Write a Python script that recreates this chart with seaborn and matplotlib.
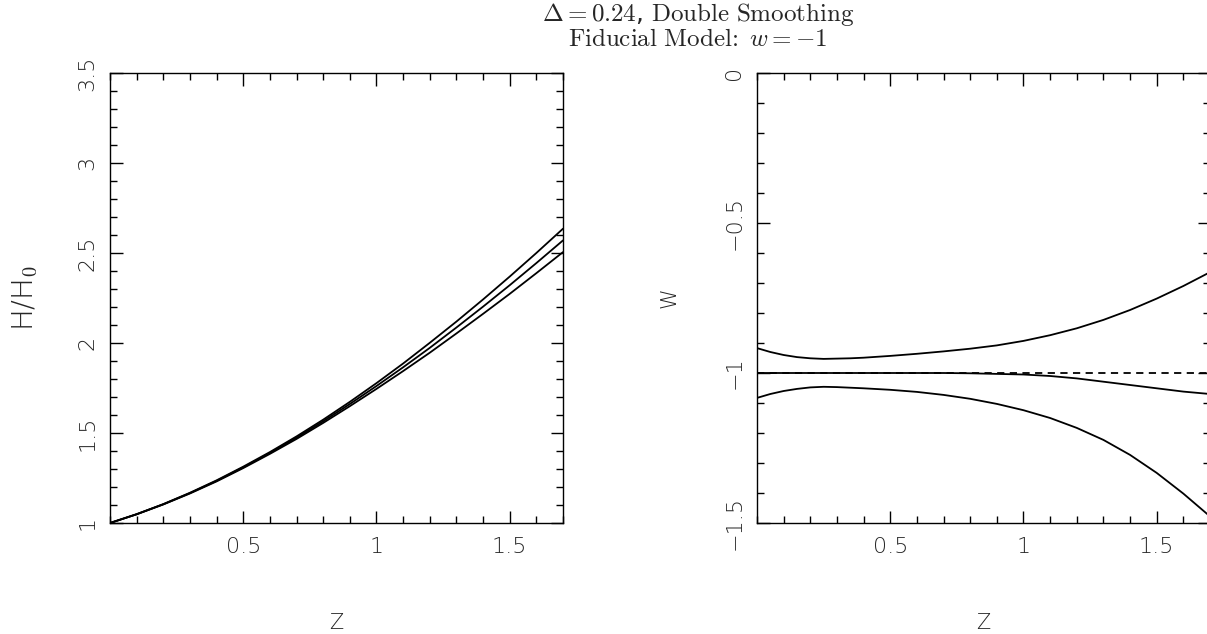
import pandas as pd
import seaborn as sns
import matplotlib.pyplot as plt
from matplotlib.ticker import MultipleLocator

# redshift grid for H/H0
z = [0.0, 0.1, 0.2, 0.3, 0.4, 0.5, 0.6, 0.7, 0.8, 0.9,
     1.0, 1.1, 1.2, 1.3, 1.4, 1.5, 1.6, 1.7]

# H/H0 reconstruction (upper, middle, lower)
h_upper = [1.000, 1.049, 1.105, 1.168, 1.237, 1.313, 1.394, 1.481, 1.574, 1.673,
           1.777, 1.886, 2.001, 2.119, 2.242, 2.369, 2.500, 2.635]
h_mid   = [1.000, 1.049, 1.104, 1.166, 1.234, 1.309, 1.389, 1.474, 1.565, 1.661,
           1.761, 1.865, 1.973, 2.086, 2.202, 2.321, 2.444, 2.570]
h_lower = [1.000, 1.048, 1.103, 1.164, 1.231, 1.305, 1.384, 1.467, 1.556, 1.649,
           1.745, 1.844, 1.946, 2.053, 2.162, 2.273, 2.388, 2.505]

# redshift grid for w (denser at low z)
zw = [0.0, 0.05, 0.1, 0.15, 0.2, 0.25, 0.3, 0.35, 0.4, 0.5, 0.6, 0.7, 0.8, 0.9,
      1.0, 1.1, 1.2, 1.3, 1.4, 1.5, 1.6, 1.7]

# w reconstruction (upper, middle, lower)
w_upper = [-0.917, -0.930, -0.940, -0.947, -0.951, -0.953, -0.952, -0.951, -0.949,
           -0.943, -0.936, -0.928, -0.919, -0.908, -0.893, -0.874, -0.851, -0.823,
           -0.790, -0.752, -0.710, -0.664]
w_mid   = [-1.000, -1.000, -1.000, -1.000, -1.000, -1.000, -1.000, -1.000, -1.000,
           -1.000, -1.000, -1.000, -1.001, -1.003, -1.005, -1.010, -1.018, -1.029,
           -1.040, -1.051, -1.062, -1.070]
w_lower = [-1.083, -1.070, -1.060, -1.053, -1.048, -1.046, -1.047, -1.049, -1.051,
           -1.056, -1.063, -1.073, -1.086, -1.103, -1.124, -1.150, -1.183, -1.223,
           -1.273, -1.333, -1.402, -1.478]

# fiducial w = -1
fid_z = [0.0, 1.7]
fid_w = [-1.0, -1.0]

x_ticks = [0.5, 1.0, 1.5]
x_labels = ["0.5", "1", "1.5"]
h_ticks = [1.0, 1.5, 2.0, 2.5, 3.0, 3.5]
h_labels = ["1", "1.5", "2", "2.5", "3", "3.5"]
w_ticks = [-1.5, -1.0, -0.5, 0.0]
w_labels = ["\u22121.5", "\u22121", "\u22120.5", "0"]

sns.set_style("ticks")
plt.rcParams["font.family"] = ["DejaVu Sans"]
plt.rcParams["mathtext.fontset"] = "cm"

fig = plt.figure(figsize=(12.07, 6.34), dpi=100)
W, H = 1207, 634
ax1 = fig.add_axes([110 / W, (H - 523) / H, 453 / W, 450 / H])
ax2 = fig.add_axes([757 / W, (H - 523) / H, 453 / W, 450 / H])

for y in (h_upper, h_mid, h_lower):
    sns.lineplot(x=z, y=y, ax=ax1, color="black", linewidth=1.3)
for y in (w_upper, w_mid, w_lower):
    sns.lineplot(x=zw, y=y, ax=ax2, color="black", linewidth=1.3)
sns.lineplot(x=fid_z, y=fid_w, ax=ax2, color="black", linewidth=1.3,
             linestyle=(0, (4, 3)))

tick_font = dict(fontsize=16, fontweight="light")

for ax, yt, yl, ylo, yhi in ((ax1, h_ticks, h_labels, 1.0, 3.5),
                             (ax2, w_ticks, w_labels, -1.5, 0.0)):
    ax.set_xlim(0, 1.7)
    ax.set_ylim(ylo, yhi)
    ax.set_xticks(x_ticks)
    ax.set_xticklabels(x_labels, **tick_font)
    ax.set_yticks(yt)
    ax.set_yticklabels(yl, rotation=90, va="center", **tick_font)
    ax.xaxis.set_minor_locator(MultipleLocator(0.1))
    ax.yaxis.set_minor_locator(MultipleLocator(0.1))
    ax.tick_params(which="both", direction="in", top=True, right=True,
                   width=1.0, color="black")
    ax.tick_params(which="major", length=9)
    ax.tick_params(which="minor", length=5)
    ax.tick_params(axis="x", pad=10)
    ax.tick_params(axis="y", pad=9)
    for s in ax.spines.values():
        s.set_linewidth(1.0)
        s.set_color("black")
    ax.set_xlabel("Z", fontsize=15, fontweight="light")
    ax.xaxis.set_label_coords(0.5, -0.2)

ax1.set_ylabel("H/H$_\\mathsf{0}$", fontsize=21, fontweight="light")
ax1.yaxis.set_label_coords(-0.155, 0.5)
ax2.set_ylabel("W", fontsize=15, fontweight="light")
ax2.yaxis.set_label_coords(-0.17, 0.5)

fig.text(698 / W, 1 - 14 / H, r"$\Delta = 0.24$, $\mathrm{Double\ Smoothing}$",
         ha="center", va="center", fontsize=18)
fig.text(698 / W, 1 - 39 / H, r"$\mathrm{Fiducial\ Model\!:}\;w = -1$",
         ha="center", va="center", fontsize=18)

fig.savefig("out.png", dpi=100)
